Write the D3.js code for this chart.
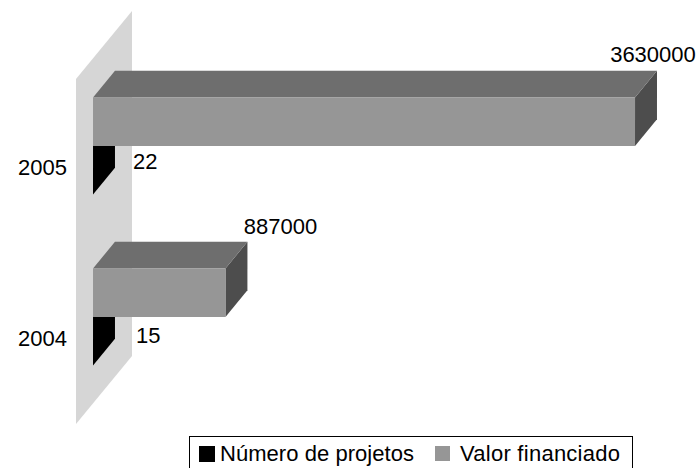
<!DOCTYPE html>
<html>
<head>
<meta charset="utf-8">
<script src="https://cdn.jsdelivr.net/npm/d3@7"></script>
<style>
  html, body { margin: 0; padding: 0; background: #fff; }
  svg { display: block; }
  text { font-family: "Liberation Sans", Arial, sans-serif; font-size: 22px; fill: #000; }
</style>
</head>
<body>
<div id="chart"></div>
<script>
const years = ["2005", "2004"];
const seriesNames = ["Valor financiado", "Número de projetos"];
const valorFinanciado = [3630000, 887000];
const numeroProjetos = [22, 15];
const legendNames = ["Número de projetos", "Valor financiado"];

const width = 697, height = 468;

const svg = d3.select("#chart").append("svg")
  .attr("width", width)
  .attr("height", height);

// the chart has a depth axis too, everything is projected with it
const depth = d3.scaleLinear().domain([0, 1]).range([0, 56]);
const rise = d3.scaleLinear().domain([0, 1]).range([0, -68]);
const barFront = 0.304, barBack = 0.696;

const project = (x, y, z) => [x + depth(z), y + rise(z)];
const poly = pts => pts.map(p => p.join(",")).join(" ");

const x = d3.scaleLinear().domain([0, 3630000]).range([76, 618]);

const y = d3.scaleBand()
  .domain(years)
  .range([79, 424])
  .paddingInner(0.4327)
  .paddingOuter(0.225)
  .align(0.508);

const inner = d3.scaleBand()
  .domain(seriesNames)
  .range([0, y.bandwidth()]);

const color = d3.scaleOrdinal()
  .domain(seriesNames)
  .range(["#969696", "#000000"]);

// the wall behind the bars
const wall = y.range();
svg.append("polygon")
  .attr("fill", "#d6d6d6")
  .attr("points", poly([
    project(x(0), wall[0], 0),
    project(x(0), wall[0], 1),
    project(x(0), wall[1], 1),
    project(x(0), wall[1], 0)
  ]));

// draws one 3d box
const drawBar = (year, name, value, top, front, side) => {
  const x0 = x(0), x1 = x(value);
  const y0 = y(year) + inner(name), y1 = y0 + inner.bandwidth();
  const g = svg.append("g").attr("class", "bar");
  g.append("polygon").attr("fill", side).attr("points", poly([
    project(x1, y0, barFront), project(x1, y0, barBack),
    project(x1, y1, barBack), project(x1, y1, barFront)
  ]));
  g.append("polygon").attr("fill", top).attr("points", poly([
    project(x0, y0, barFront), project(x0, y0, barBack),
    project(x1, y0, barBack), project(x1, y0, barFront)
  ]));
  g.append("polygon").attr("fill", front).attr("points", poly([
    project(x0, y0, barFront), project(x1, y0, barFront),
    project(x1, y1, barFront), project(x0, y1, barFront)
  ]));
};

// label nudges
const valorDx = [-4, 33], valorDy = [-9, -8];
const numeroDx = [18, 21], numeroDy = [50, 53];

// lower bars first so the gray bar covers the top of the black one
years.forEach((year, i) => {
  drawBar(year, seriesNames[1], numeroProjetos[i], "#000", "#000", "#000");
  drawBar(year, seriesNames[0], valorFinanciado[i], "#6e6e6e", color(seriesNames[0]), "#4d4d4d");

  const v = project(x(valorFinanciado[i]), y(year), barBack);
  svg.append("text")
    .attr("x", v[0] + valorDx[i])
    .attr("y", v[1] + valorDy[i])
    .attr("text-anchor", "middle")
    .text(valorFinanciado[i]);

  const n = project(x(numeroProjetos[i]), y(year) + y.bandwidth() / 2, barBack);
  svg.append("text")
    .attr("x", n[0] + numeroDx[i])
    .attr("y", n[1] + numeroDy[i])
    .text(numeroProjetos[i]);
});

// category axis
const axis = svg.append("g")
  .attr("transform", "translate(67,0)")
  .call(d3.axisLeft(y).tickSize(0).tickPadding(0));
axis.select(".domain").remove();
axis.selectAll("text")
  .attr("dy", "0.36em")
  .style("font-family", "'Liberation Sans', Arial, sans-serif")
  .style("font-size", "22px");

// legend, its bottom edge falls outside the picture
const legend = svg.append("g");
legend.append("rect")
  .attr("x", 189.5).attr("y", 436.5)
  .attr("width", 443).attr("height", 40)
  .attr("fill", "#fff").attr("stroke", "#000");

const legendX = [199, 435];
const legendSwatch = ["#000000", "#969696"];
const legendSize = [16, 15];
legendNames.forEach((name, i) => {
  legend.append("rect")
    .attr("x", legendX[i]).attr("y", 446)
    .attr("width", legendSize[i]).attr("height", legendSize[i])
    .attr("fill", legendSwatch[i]);
  legend.append("text")
    .attr("x", legendX[i] + (i === 0 ? 21 : 25))
    .attr("y", 461)
    .attr("textLength", i === 0 ? 194 : 160)
    .text(name);
});
</script>
</body>
</html>
